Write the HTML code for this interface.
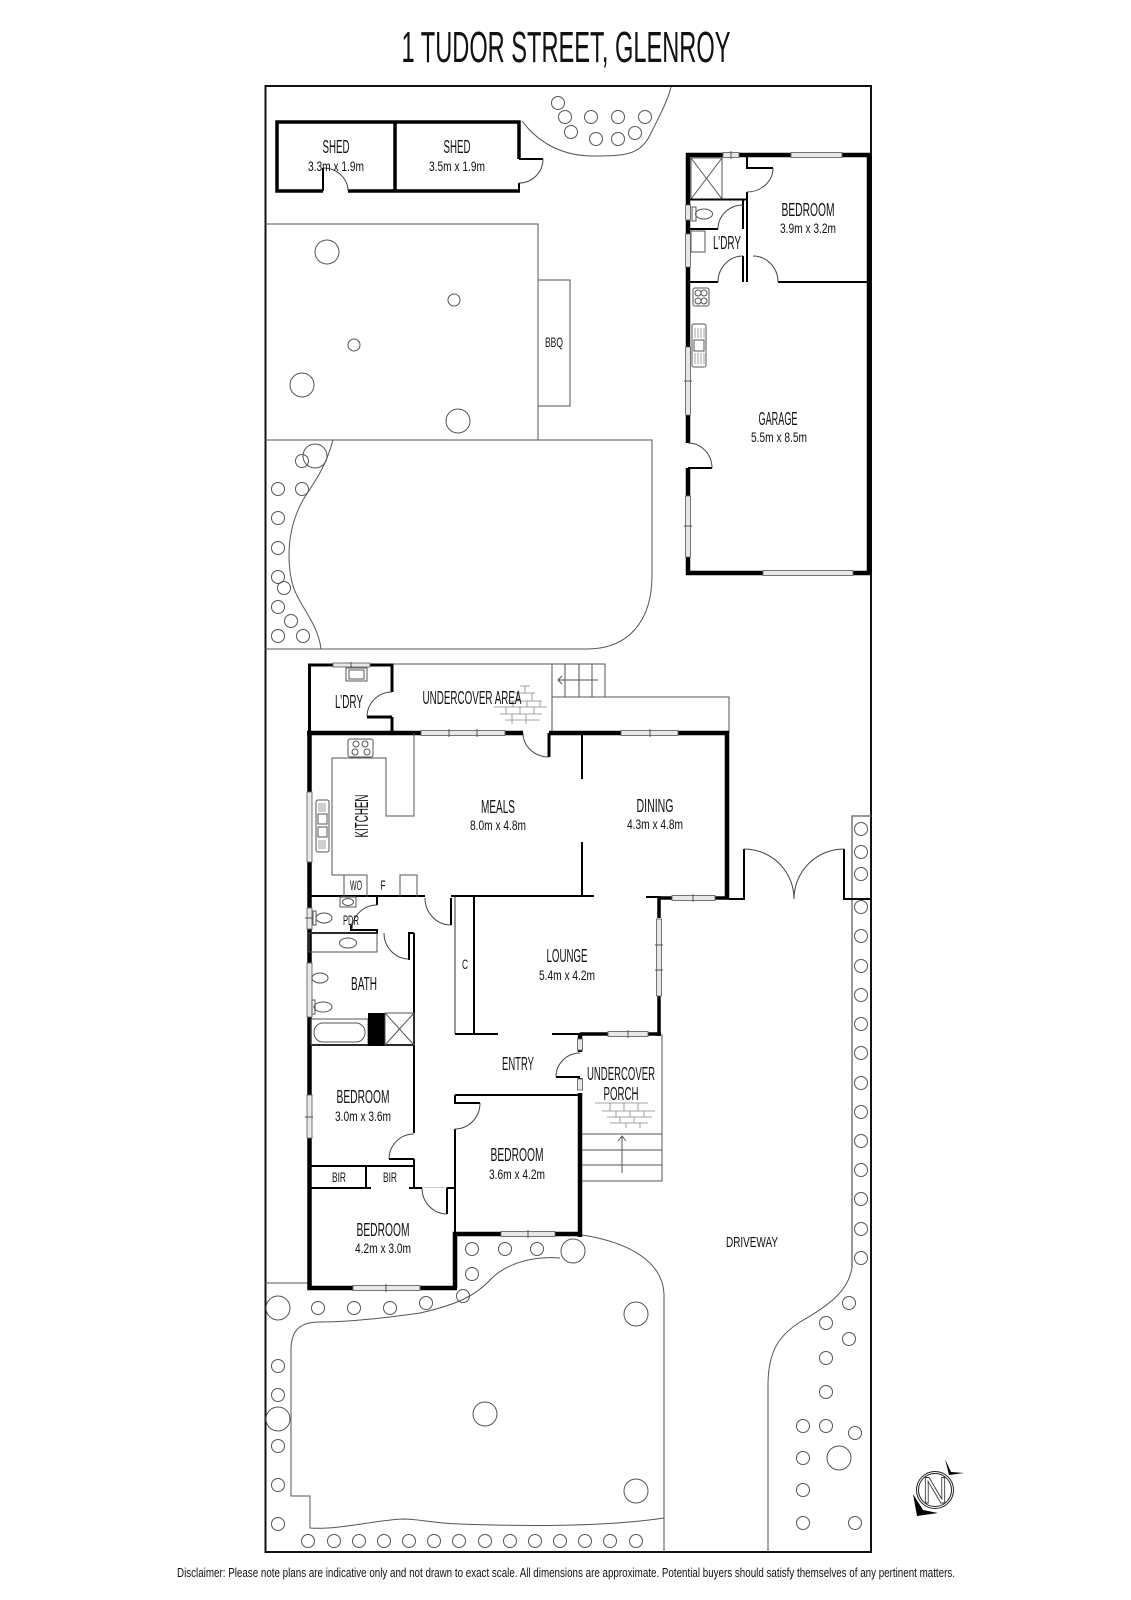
<!DOCTYPE html>
<html><head><meta charset="utf-8"><style>
html,body{margin:0;padding:0;background:#fff;width:1131px;height:1600px;overflow:hidden}
svg{display:block}
text{font-family:"Liberation Sans",sans-serif;fill:#111;text-anchor:middle}
.n{font-size:18px}.d{font-size:14px}
.t{fill:none;stroke:#555;stroke-width:1}
.g{fill:none;stroke:#777;stroke-width:1.5}
.a{fill:none;stroke:#444;stroke-width:1}
.w5{fill:none;stroke:#000;stroke-width:4.5}
.w4{fill:none;stroke:#000;stroke-width:3.5}
.w2{fill:none;stroke:#000;stroke-width:2}
.win{fill:#e8e8e8;stroke:#666;stroke-width:.9}
.c circle{fill:none;stroke:#555;stroke-width:1}
.b{fill:none;stroke:#888;stroke-width:.8}
</style></head><body>
<svg xmlns="http://www.w3.org/2000/svg" width="1131" height="1600" viewBox="0 0 1131 1600">
<rect width="1131" height="1600" fill="#fff"/>
<text x="566" y="62" font-size="44" textLength="329" lengthAdjust="spacingAndGlyphs">1 TUDOR STREET, GLENROY</text>
<!-- lot -->
<rect x="265.5" y="86" width="605.5" height="1466" fill="none" stroke="#111" stroke-width="2"/>
<!-- gardens / yard -->
<path class="t" d="M522,121C540,145 565,156 593,156C625,156 640,155 650,135C660,115 668,100 671,87"/>
<path class="t" d="M265,224H538V440M265,440H652V575C652,625 625,649 587,649H265"/>
<rect class="t" x="538" y="280" width="32" height="126"/>
<path class="t" d="M333,440C325,470 312,485 303,500C292,520 289,540 289,555C289,590 300,600 308,615C316,628 320,640 321,649"/>
<path class="t" d="M582,1235C615,1240 663,1255 664,1295V1552"/>
<path class="t" d="M560,1258C535,1256 510,1262 493,1277C475,1297 455,1305 420,1313C385,1318 350,1322 320,1322C300,1322 291,1330 291,1350V1496H310V1528C340,1530 375,1520 403,1519C420,1519 430,1523 460,1524C540,1527 610,1526 664,1518"/>
<path class="t" d="M265,1283H309"/>
<path class="g" d="M871,816H852V1267"/>
<path class="t" d="M852,1267C849,1290 830,1305 800,1322C780,1335 768,1350 768,1385V1552"/>
<!-- plants -->
<g class="c">
<circle cx="558" cy="103" r="6.5"/><circle cx="565" cy="117" r="6.5"/><circle cx="591" cy="117" r="6.5"/><circle cx="618" cy="117" r="6.5"/><circle cx="645" cy="117" r="6.5"/><circle cx="571" cy="132" r="6.5"/><circle cx="596" cy="139" r="6.5"/><circle cx="618" cy="139" r="6.5"/><circle cx="635" cy="133" r="6.5"/>
<circle cx="327" cy="252" r="12"/><circle cx="454" cy="300" r="6"/><circle cx="354" cy="345" r="6"/><circle cx="302" cy="385" r="12"/><circle cx="458" cy="421" r="12"/>
<circle cx="302" cy="461" r="6.5"/><circle cx="315" cy="456" r="12"/><circle cx="278" cy="489" r="6.5"/><circle cx="302" cy="489" r="6.5"/><circle cx="278" cy="518" r="6.5"/><circle cx="278" cy="548" r="6.5"/><circle cx="278" cy="577" r="6.5"/><circle cx="284" cy="588" r="6.5"/><circle cx="278" cy="607" r="6.5"/><circle cx="291" cy="621" r="6.5"/><circle cx="278" cy="636" r="6.5"/><circle cx="303" cy="636" r="6.5"/>
<circle cx="861" cy="829" r="6.5"/><circle cx="861" cy="852" r="6.5"/><circle cx="861" cy="874" r="6.5"/><circle cx="861" cy="907" r="6.5"/><circle cx="861" cy="936" r="6.5"/><circle cx="861" cy="966" r="6.5"/><circle cx="861" cy="995" r="6.5"/><circle cx="861" cy="1024" r="6.5"/><circle cx="861" cy="1053" r="6.5"/><circle cx="861" cy="1083" r="6.5"/><circle cx="861" cy="1112" r="6.5"/><circle cx="861" cy="1141" r="6.5"/><circle cx="861" cy="1170" r="6.5"/><circle cx="861" cy="1199" r="6.5"/><circle cx="861" cy="1229" r="6.5"/><circle cx="861" cy="1258" r="6.5"/>
<circle cx="849" cy="1303" r="6.5"/><circle cx="826" cy="1323" r="6.5"/><circle cx="849" cy="1339" r="6.5"/><circle cx="826" cy="1358" r="6.5"/><circle cx="826" cy="1392" r="6.5"/><circle cx="826" cy="1426" r="6.5"/><circle cx="803" cy="1426" r="6.5"/><circle cx="855" cy="1433" r="6.5"/><circle cx="803" cy="1458" r="6.5"/><circle cx="839" cy="1458" r="12"/><circle cx="803" cy="1490" r="6.5"/><circle cx="803" cy="1523" r="6.5"/><circle cx="855" cy="1523" r="6.5"/>
<circle cx="472" cy="1249" r="6.5"/><circle cx="505" cy="1249" r="6.5"/><circle cx="537" cy="1249" r="6.5"/><circle cx="573" cy="1251" r="12"/><circle cx="472" cy="1274" r="6.5"/><circle cx="463" cy="1296" r="6.5"/><circle cx="426" cy="1303" r="6.5"/><circle cx="390" cy="1308" r="6.5"/><circle cx="354" cy="1308" r="6.5"/><circle cx="318" cy="1308" r="6.5"/><circle cx="278" cy="1308" r="12"/>
<circle cx="636" cy="1314" r="12"/><circle cx="485" cy="1414" r="12"/><circle cx="636" cy="1491" r="12"/>
<circle cx="278" cy="1366" r="6.5"/><circle cx="278" cy="1395" r="6.5"/><circle cx="278" cy="1419" r="12"/><circle cx="278" cy="1446" r="6.5"/><circle cx="278" cy="1485" r="6.5"/><circle cx="278" cy="1524" r="6.5"/>
<circle cx="308" cy="1541" r="6.5"/><circle cx="334" cy="1541" r="6.5"/><circle cx="359" cy="1541" r="6.5"/><circle cx="384" cy="1541" r="6.5"/><circle cx="409" cy="1541" r="6.5"/><circle cx="434" cy="1541" r="6.5"/><circle cx="459" cy="1541" r="6.5"/><circle cx="485" cy="1541" r="6.5"/><circle cx="510" cy="1541" r="6.5"/><circle cx="535" cy="1541" r="6.5"/><circle cx="560" cy="1541" r="6.5"/><circle cx="585" cy="1541" r="6.5"/><circle cx="610" cy="1541" r="6.5"/><circle cx="636" cy="1541" r="6.5"/>
</g>
<!-- sheds -->
<path class="w4" d="M323,191H277V122H519V159"/>
<path class="w4" d="M395,122V191"/>
<path class="w2" d="M519,191V183M519,159H543M323,191V168"/><path class="w4" d="M348,191H520"/>
<path class="a" d="M323,168A25,23 0 0 1 348,191M543,159A24,24 0 0 1 519,183"/>
<!-- garage block -->
<path class="w5" d="M688,347V155H869V573H688V557"/>
<path class="w5" d="M688,415V443M688,468V496"/>
<rect class="win" x="723" y="152.500" width="16" height="5"/><path class="t" d="M731,151V159"/>
<rect class="win" x="791" y="152.500" width="51" height="5"/>
<rect class="win" x="763" y="570.500" width="90" height="5"/>
<rect class="win" x="685.500" y="347" width="5" height="68"/><path class="t" d="M684,381H692"/>
<rect class="win" x="685.500" y="496" width="5" height="61"/><path class="t" d="M684,526H692"/>
<rect class="win" x="685.500" y="205" width="5" height="15"/>
<rect class="win" x="685.500" y="234" width="5" height="33"/>
<rect class="t" x="691" y="158" width="31" height="41"/><path class="t" d="M691,158L722,199M722,158L691,199"/>
<path class="w2" d="M688,199.500H747M747,192V282M743,199V229M743,256V282M688,229H718M688,282H718M778,282H869M747,155V168H773M688,468H712"/>
<path class="a" d="M773,168A26,24 0 0 1 747,192M743,205A25,24 0 0 0 718,229M743,256A25,26 0 0 0 718,282M753,256A25,26 0 0 1 778,282M688,443A24,25 0 0 1 712,468"/>
<ellipse class="t" cx="704" cy="214" rx="8.500" ry="5"/><rect class="t" x="692" y="207" width="4" height="14"/>
<rect class="t" x="691" y="231" width="14" height="21"/>
<rect class="t" x="693" y="288" width="16" height="18" rx="2"/>
<g class="t"><circle cx="698" cy="293" r="3"/><circle cx="704" cy="293" r="3"/><circle cx="698" cy="301" r="3"/><circle cx="704" cy="301" r="3"/></g>
<rect class="t" x="692" y="324" width="14" height="43" rx="2"/><rect class="t" x="694" y="340" width="10" height="11"/>
<path class="b" d="M695,328V338M698,328V338M701,328V338M704,328V338M695,353V364M698,353V364M701,353V364M704,353V364"/>
<!-- back of main house -->
<path class="t" d="M392,664H605V697H552M552,664V733M552,697H729V733"/>
<path class="t" d="M565,664V697M579,664V697M592,664V697M558,680H598M562,676L558,680L562,684"/>
<path d="M309.500,733V665H392V692M392,717V733M367,717H392" fill="none" stroke="#000" stroke-width="3"/>
<rect class="win" x="333" y="663" width="37" height="4"/><path class="t" d="M351,662V668"/>
<rect class="t" x="346" y="668" width="21" height="13"/><rect class="t" x="349" y="670" width="15" height="9"/>
<path class="a" d="M392,692A25,25 0 0 0 367,717"/>
<path class="b" d="M520,686H530M513,693H535M508,701H542M494,707H547M500,714H542M505,720H540M525,686V693M518,693V701M532,693V701M513,701V707M527,701V707M540,701V707M506,707V714M520,707V714M534,707V714M512,714V720M526,714V720M512,720V724M526,720V724"/>
<!-- main walls -->
<path class="w5" d="M307,733H421M505,733H523M549,733H729M727,731V898M309.500,733V792M309.500,862V908M309.500,929V963M309.500,1017V1095M309.500,1138V1288H457M455,1288V1234H580M580,1237V1093M580,1034V1039M580,1050V1052M580,1078V1079"/>
<path class="w4" d="M729,898H658M659,896V918M659,996V1036M580,1034H661"/>
<path class="w2" d="M549,733V757" style="stroke-width:3"/><path class="w2" d="M729,899H744V849M844,849V899H871M582,733V779M582,842V896M309,896H425M451,896H594M646,897H658M451,898V925M552,1034H580M556,1077H580"/>
<rect class="win" x="421" y="730.500" width="84" height="5"/><path class="t" d="M449,729V737M477,729V737"/>
<rect class="win" x="621" y="730.500" width="57" height="5"/><path class="t" d="M650,729V737"/>
<rect class="win" x="672" y="895.500" width="43" height="5"/><path class="t" d="M693,894V902"/>
<rect class="win" x="307" y="792" width="5" height="70"/>
<rect class="win" x="307" y="908" width="5" height="21"/><path class="t" d="M305,918H313"/>
<rect class="win" x="307" y="963" width="5" height="54"/>
<rect class="win" x="307" y="1095" width="5" height="43"/><path class="t" d="M305,1117H313"/>
<rect class="win" x="353" y="1285.500" width="67" height="5"/><path class="t" d="M386,1284V1292"/>
<rect class="win" x="501" y="1231.500" width="54" height="5"/><path class="t" d="M528,1230V1238"/>
<rect class="win" x="656.500" y="919" width="5" height="77"/><path class="t" d="M655,945H663M655,970H663"/>
<rect class="win" x="608" y="1031.500" width="40" height="5"/><path class="t" d="M628,1030V1038"/>
<rect class="win" x="577.500" y="1039" width="5" height="11"/>
<rect class="win" x="577.500" y="1079" width="5" height="11"/>
<path class="a" d="M549,757A26,24 0 0 1 523,733M425,898A26,27 0 0 0 451,925M744,849A50,50 0 0 1 794,899M844,849A50,50 0 0 0 794,899M580,1053A24,24 0 0 0 556,1077"/>
<!-- kitchen -->
<path class="t" d="M414,733V816H386V758H332V875H367M344,875V897M367,875V897M400,897V875H417V897"/>
<rect class="t" x="348" y="739" width="25" height="18" rx="2"/>
<g class="t"><circle cx="356" cy="744" r="3"/><circle cx="365" cy="744" r="3"/><circle cx="355" cy="752" r="3"/><circle cx="367" cy="752" r="3"/></g>
<rect class="t" x="316" y="800" width="13" height="52" rx="2"/><rect class="t" x="318" y="814" width="9" height="10"/><rect class="t" x="318" y="827" width="9" height="10"/>
<path class="b" d="M319,803V812M321,803V812M323,803V812M325,803V812M319,840V849M321,840V849M323,840V849M325,840V849"/>
<!-- closet -->
<path class="g" d="M455,897V1034"/>
<path class="w2" d="M474,897V1034M455,1034H498"/>
<!-- porch -->
<path class="t" d="M662,1034V1181H582M582,1134H662M582,1150H662M582,1165H662M622,1173V1136M618,1141L622,1136L626,1141"/>
<path class="b" d="M595,1103H648M602,1111H655M607,1117H652M610,1123H648M610,1103V1111M624,1103V1111M638,1103V1111M616,1111V1117M630,1111V1117M644,1111V1117M620,1117V1123M634,1117V1123M626,1123V1128M640,1123V1128"/>
<!-- PDR / bath -->
<path class="w2" d="M377,896V905M309,933H377V930H351V925M409,960V933H414M409,933V960"/>
<path class="w2" d="M414,933V1133M309,1045H414"/>
<path class="a" d="M377,905A25,25 0 0 0 352,930M384,933A25,26 0 0 0 409,959"/>
<rect class="t" x="340" y="897" width="16" height="10"/><ellipse class="t" cx="348" cy="902" rx="5.500" ry="3.500"/>
<ellipse class="t" cx="324" cy="918" rx="8" ry="5"/><rect class="t" x="313" y="911" width="3" height="14"/>
<rect class="t" x="309" y="933" width="68" height="19"/><ellipse class="t" cx="348" cy="943" rx="8.500" ry="5"/>
<ellipse class="t" cx="320" cy="978" rx="8" ry="5"/><ellipse class="t" cx="323" cy="1007" rx="9" ry="5"/><rect class="t" x="312" y="1000" width="3" height="14"/>
<rect class="t" x="311" y="1019" width="57" height="26"/><rect class="t" x="314" y="1023" width="51" height="19" rx="9"/>
<rect x="368" y="1013" width="17" height="32" fill="#000"/>
<rect class="t" x="385" y="1013" width="29" height="32"/><path class="t" d="M385,1013L414,1045M414,1013L385,1045"/>
<!-- bedrooms -->
<path class="w2" d="M414,1159H389M414,1159V1188M309,1166H414M366,1166V1188M309,1188H371M409,1188H422M447,1188H455M447,1188V1214M455,1095H578M455,1095V1103H480M455,1129V1234"/>
<path class="a" d="M414,1134A25,25 0 0 0 389,1159M422,1188A25,26 0 0 0 447,1214M480,1103A25,26 0 0 1 455,1129"/>
<path d="M422,1187.500H447" stroke="#ccc" stroke-width="1" fill="none"/>
<!-- north -->
<circle cx="935" cy="1490" r="18.500" fill="none" stroke="#222" stroke-width="1"/>
<circle cx="935" cy="1490" r="16.500" fill="none" stroke="#222" stroke-width="1"/>
<text x="935" y="1503" font-size="37" style="fill:#fff;stroke:#333;stroke-width:.9" textLength="25" lengthAdjust="spacingAndGlyphs">N</text>
<path d="M945,1459L951,1472L964,1473L949,1475Z" fill="#000"/>
<path d="M913,1494L917,1516L938,1513L923,1510Z" fill="#000"/>
<!-- labels -->
<text class="n" x="336" y="153" textLength="27" lengthAdjust="spacingAndGlyphs">SHED</text>
<text class="d" x="336" y="171" textLength="56" lengthAdjust="spacingAndGlyphs">3.3m x 1.9m</text>
<text class="n" x="457" y="153" textLength="27" lengthAdjust="spacingAndGlyphs">SHED</text>
<text class="d" x="457" y="171" textLength="56" lengthAdjust="spacingAndGlyphs">3.5m x 1.9m</text>
<text class="d" x="554" y="347" textLength="18" lengthAdjust="spacingAndGlyphs">BBQ</text>
<text class="n" x="808" y="216" textLength="53" lengthAdjust="spacingAndGlyphs">BEDROOM</text>
<text class="d" x="808" y="233" textLength="56" lengthAdjust="spacingAndGlyphs">3.9m x 3.2m</text>
<text class="n" x="727" y="249" textLength="28" lengthAdjust="spacingAndGlyphs">L’DRY</text>
<text class="n" x="778" y="425" textLength="39" lengthAdjust="spacingAndGlyphs">GARAGE</text>
<text class="d" x="779" y="442" textLength="56" lengthAdjust="spacingAndGlyphs">5.5m x 8.5m</text>
<text class="n" x="349" y="708" textLength="28" lengthAdjust="spacingAndGlyphs">L’DRY</text>
<text class="n" x="472" y="704" textLength="99" lengthAdjust="spacingAndGlyphs">UNDERCOVER AREA</text>
<text class="n" x="498" y="813" textLength="34" lengthAdjust="spacingAndGlyphs">MEALS</text>
<text class="d" x="498" y="830" textLength="56" lengthAdjust="spacingAndGlyphs">8.0m x 4.8m</text>
<text class="n" x="655" y="812" textLength="37" lengthAdjust="spacingAndGlyphs">DINING</text>
<text class="d" x="655" y="829" textLength="56" lengthAdjust="spacingAndGlyphs">4.3m x 4.8m</text>
<text class="n" transform="translate(368,816) rotate(-90)" textLength="43" lengthAdjust="spacingAndGlyphs">KITCHEN</text>
<text class="d" x="356" y="890" textLength="12" lengthAdjust="spacingAndGlyphs">WO</text>
<text class="d" x="383" y="890" textLength="5" lengthAdjust="spacingAndGlyphs">F</text>
<text class="d" x="351" y="925" textLength="16" lengthAdjust="spacingAndGlyphs">PDR</text>
<text class="n" x="364" y="990" textLength="26" lengthAdjust="spacingAndGlyphs">BATH</text>
<text class="d" x="465" y="969" textLength="6" lengthAdjust="spacingAndGlyphs">C</text>
<text class="n" x="567" y="962" textLength="41" lengthAdjust="spacingAndGlyphs">LOUNGE</text>
<text class="d" x="567" y="980" textLength="56" lengthAdjust="spacingAndGlyphs">5.4m x 4.2m</text>
<text class="n" x="518" y="1070" textLength="32" lengthAdjust="spacingAndGlyphs">ENTRY</text>
<text class="n" x="621" y="1080" textLength="68" lengthAdjust="spacingAndGlyphs">UNDERCOVER</text>
<text class="n" x="621" y="1100" textLength="35" lengthAdjust="spacingAndGlyphs">PORCH</text>
<text class="n" x="363" y="1103" textLength="53" lengthAdjust="spacingAndGlyphs">BEDROOM</text>
<text class="d" x="363" y="1121" textLength="56" lengthAdjust="spacingAndGlyphs">3.0m x 3.6m</text>
<text class="n" x="517" y="1161" textLength="53" lengthAdjust="spacingAndGlyphs">BEDROOM</text>
<text class="d" x="517" y="1179" textLength="56" lengthAdjust="spacingAndGlyphs">3.6m x 4.2m</text>
<text class="n" x="383" y="1236" textLength="53" lengthAdjust="spacingAndGlyphs">BEDROOM</text>
<text class="d" x="383" y="1253" textLength="56" lengthAdjust="spacingAndGlyphs">4.2m x 3.0m</text>
<text class="d" x="339" y="1182" textLength="14" lengthAdjust="spacingAndGlyphs">BIR</text>
<text class="d" x="390" y="1182" textLength="14" lengthAdjust="spacingAndGlyphs">BIR</text>
<text class="n" x="752" y="1247" style="font-size:15px" textLength="52" lengthAdjust="spacingAndGlyphs">DRIVEWAY</text>
<text x="566" y="1577" font-size="13" textLength="778" lengthAdjust="spacingAndGlyphs">Disclaimer: Please note plans are indicative only and not drawn to exact scale. All dimensions are approximate. Potential buyers should satisfy themselves of any pertinent matters.</text>
</svg>
</body></html>
